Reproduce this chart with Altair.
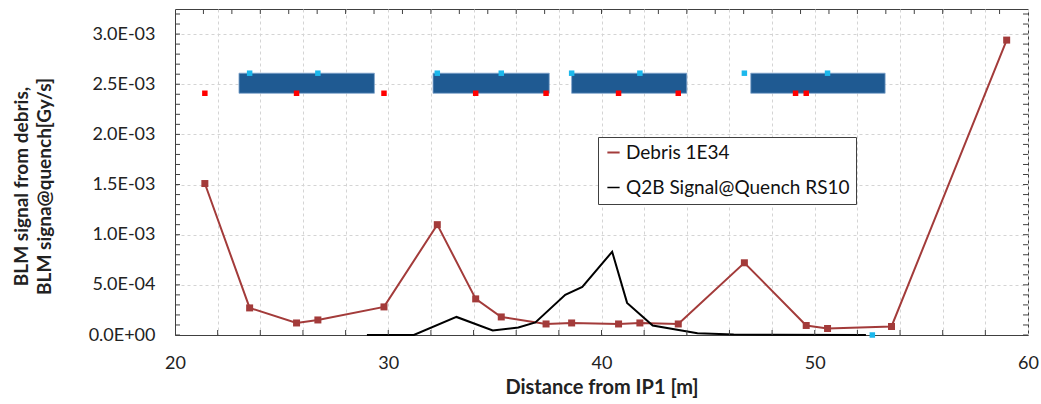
import altair as alt
import pandas as pd
import numpy as np

# ---------------- data ----------------
debris_x = [21.4, 23.5, 25.7, 26.7, 29.8, 32.3, 34.1, 35.3, 37.4, 38.6, 40.8, 41.8, 43.6, 46.7, 49.6, 50.6, 53.6, 59.0]
debris_y = [1.51e-3, 0.27e-3, 0.12e-3, 0.15e-3, 0.28e-3, 1.10e-3, 0.36e-3, 0.18e-3, 0.11e-3, 0.12e-3,
            0.11e-3, 0.12e-3, 0.11e-3, 0.72e-3, 0.095e-3, 0.065e-3, 0.085e-3, 2.94e-3]

q2b_x = [29.0, 31.2, 33.2, 34.9, 36.1, 36.9, 38.3, 39.1, 40.5, 41.2, 42.4, 44.5, 46.2, 48.0, 52.4]
q2b_y = [0.0, 0.0, 0.18e-3, 0.045e-3, 0.075e-3, 0.125e-3, 0.40e-3, 0.48e-3, 0.83e-3, 0.32e-3,
         0.095e-3, 0.018e-3, 0.006e-3, 0.002e-3, 0.0]

magnet_start = [23.0, 32.1, 38.6, 47.0]
magnet_end = [29.35, 37.55, 44.0, 53.3]
magnet_low = [2.41e-3] * 4
magnet_high = [2.61e-3] * 4

red_x = [21.4, 25.7, 29.8, 34.1, 37.4, 40.8, 43.6, 49.1, 49.6]
red_y = [2.41e-3] * 9

cyan_x = [23.5, 26.7, 32.3, 35.3, 38.6, 41.8, 46.7, 50.6, 52.7]
cyan_y = [2.61e-3] * 8 + [0.0]

series_names = ["Debris 1E34", "Q2B Signal@Quench RS10"]
series_colors = ["#A33B3A", "#000000"]

y_tick_values = [0.0, 0.5e-3, 1.0e-3, 1.5e-3, 2.0e-3, 2.5e-3, 3.0e-3]
x_tick_values = list(range(20, 61, 2))
y_minor_ticks = [round(i * 1e-4, 6) for i in range(33)]
x_bottom_ticks = list(range(22, 60, 2))
x_top_ticks = [20 + k * 4 / 3 for k in range(1, 30)]

# ---------------- tables ----------------
lines_df = pd.concat([
    pd.DataFrame({"x": debris_x, "y": debris_y, "series": series_names[0], "order": range(len(debris_x))}),
    pd.DataFrame({"x": q2b_x, "y": q2b_y, "series": series_names[1], "order": range(len(q2b_x))}),
])
debris_df = pd.DataFrame({"x": debris_x, "y": debris_y})
magnet_df = pd.DataFrame({"x": magnet_start, "x2": magnet_end, "y": magnet_low, "y2": magnet_high})
red_df = pd.DataFrame({"x": red_x, "y": red_y})
cyan_df = pd.DataFrame({"x": cyan_x, "y": cyan_y})
ytick_df = pd.DataFrame({"y": y_minor_ticks})
xbot_df = pd.DataFrame({"x": x_bottom_ticks})
xtop_df = pd.DataFrame({"x": x_top_ticks})

W, H = 853, 326
FONT = "Lato"
AX = "#404040"
TXT = "#222222"

xscale = alt.Scale(domain=[20, 60], nice=False, zero=False)
yscale = alt.Scale(domain=[0, 3.25e-3], nice=False, zero=True)

x_axis = alt.Axis(
    values=x_tick_values,
    labelExpr="datum.value % 10 == 0 ? datum.label : ''",
    ticks=False, grid=True, gridDash=[3, 3], gridColor="#D4D4D4",
    domainColor=AX, labelFontSize=18, labelColor=TXT, labelPadding=19,
    title="Distance from IP1 [m]", titleFontSize=20, titleFontWeight="bold",
    titleColor=TXT, titlePadding=5, labelFlush=False,
)
y_axis = alt.Axis(
    values=y_tick_values,
    labelExpr="datum.value == 0 ? '0.0E+00' : replace(format(datum.value, '.1e'), 'e-', 'E-0')",
    ticks=False, grid=True, gridDash=[3, 3], gridColor="#D4D4D4",
    domainColor=AX, labelFontSize=18, labelColor=TXT, labelPadding=20,
    title=["BLM signal from debris,", "BLM signa@quench[Gy/s]"],
    titleFontSize=19, titleFontWeight="bold", titleColor=TXT,
    titleLineHeight=23, titleAngle=270, titleBaseline="top", titleAlign="center",
    titleX=-163, titleY=177,
)

X = alt.X("x:Q", scale=xscale, axis=x_axis)
Y = alt.Y("y:Q", scale=yscale, axis=y_axis)

magnets = alt.Chart(magnet_df).mark_rect(color="#1F5A92", stroke="#7FA3CC", strokeWidth=0.8).encode(
    x=X, x2="x2:Q", y=Y, y2="y2:Q")

red_pts = alt.Chart(red_df).mark_square(size=30, color="#FF0000", opacity=1).encode(x=X, y=Y)
cyan_pts = alt.Chart(cyan_df).mark_square(size=30, color="#1CB8EC", opacity=1).encode(x=X, y=Y)

lines = alt.Chart(lines_df).mark_line(strokeWidth=2).encode(
    x=X, y=Y, order="order:Q",
    color=alt.Color("series:N", scale=alt.Scale(domain=series_names, range=series_colors),
                    legend=alt.Legend(
                        title=None, orient="none", legendX=423, legendY=128,
                        fillColor="white", strokeColor=AX, padding=6,
                        labelFontSize=19, labelColor="#111111", labelFont=FONT, labelLimit=0,
                        symbolType="stroke", symbolStrokeWidth=2, symbolSize=150,
                        rowPadding=15, labelOffset=3, symbolOffset=0,
                    )),
    strokeWidth=alt.StrokeWidth("series:N", scale=alt.Scale(domain=series_names, range=[2, 1.5]), legend=None),
)

debris_pts = alt.Chart(debris_df).mark_square(size=49, color="#A33B3A", opacity=1).encode(x=X, y=Y)

left_ticks = alt.Chart(ytick_df).mark_rule(color=AX).encode(x=alt.value(0), x2=alt.value(5), y=Y)
right_ticks = alt.Chart(ytick_df).mark_rule(color=AX).encode(x=alt.value(W - 5), x2=alt.value(W), y=Y)
bottom_ticks = alt.Chart(xbot_df).mark_rule(color=AX).encode(x=X, y=alt.value(H - 5), y2=alt.value(H))
top_ticks = alt.Chart(xtop_df).mark_rule(color=AX).encode(x=X, y=alt.value(0), y2=alt.value(5))

chart = alt.layer(
    magnets, red_pts, cyan_pts, lines, debris_pts,
    left_ticks, right_ticks, bottom_ticks, top_ticks,
).properties(
    width=W, height=H,
    autosize=alt.AutoSizeParams(type="none"),
    padding={"left": 175, "top": 9, "right": 13, "bottom": 69},
).configure(
    font=FONT,
).configure_view(
    stroke=AX, strokeWidth=1,
)

chart.save("out.html", embed_options={"renderer": "svg", "actions": False})
